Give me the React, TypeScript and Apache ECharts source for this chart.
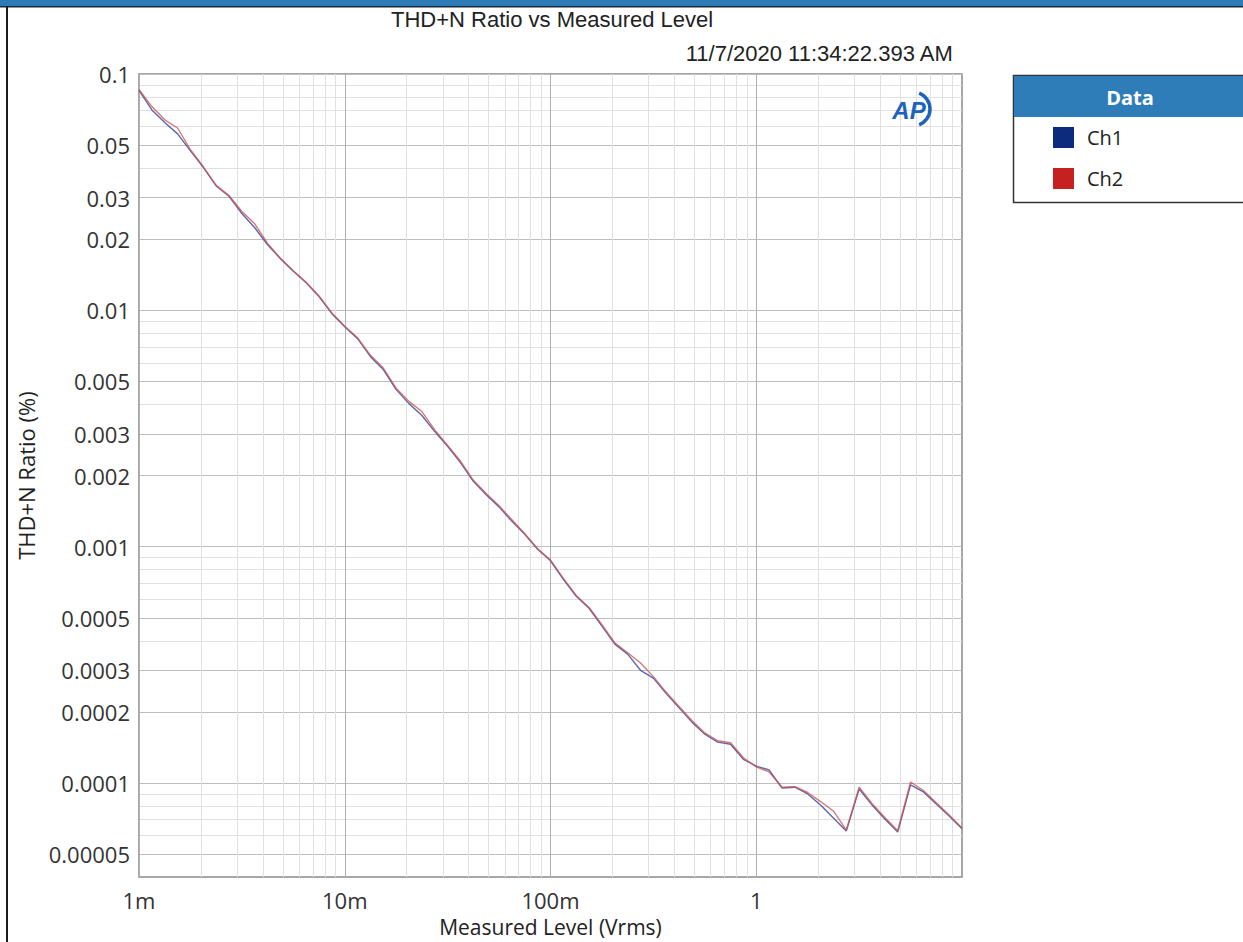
import React, { useEffect, useRef } from 'react';
import * as echarts from 'echarts';

// Measured level (Vrms) of each sweep step
const LEVELS = [
  0.001, 0.0011548, 0.0013335, 0.0015399, 0.0017783, 0.0020535, 0.0023714, 0.0027384, 0.0031623, 0.0036517,
  0.004217, 0.0048697, 0.0056234, 0.0064938, 0.0074989, 0.0086596,
  0.01, 0.011548, 0.013335, 0.015399, 0.017783, 0.020535, 0.023714, 0.027384, 0.031623, 0.036517,
  0.04217, 0.048697, 0.056234, 0.064938, 0.074989, 0.086596,
  0.1, 0.11548, 0.13335, 0.15399, 0.17783, 0.20535, 0.23714, 0.27384, 0.31623, 0.36517,
  0.4217, 0.48697, 0.56234, 0.64938, 0.74989, 0.86596,
  1, 1.1548, 1.3335, 1.5399, 1.7783, 2.0535, 2.3714, 2.7384, 3.1623, 3.6517,
  4.217, 4.8697, 5.6234, 6.4938, 7.4989, 8.6596, 10,
];

// THD+N ratio (%)
const CH1 = [
  0.0852, 0.0705, 0.0624, 0.0558, 0.0473, 0.0403, 0.0336, 0.0304, 0.0257, 0.02236,
  0.01895, 0.01654, 0.01464, 0.01309, 0.01143, 0.00968, 0.00853, 0.00759, 0.00637, 0.00562,
  0.00462, 0.00403, 0.00359, 0.00307, 0.00266, 0.00227, 0.00189, 0.00166, 0.001474, 0.00128,
  0.001128, 0.000975, 0.000872, 0.000728, 0.000617, 0.000549, 0.000461, 0.000387, 0.000351, 0.0003,
  0.000278, 0.000239, 0.000208, 0.000181, 0.000161, 0.000149, 0.000146, 0.000126, 0.000118, 0.0001136,
  0.0000953, 0.000096, 0.0000899, 0.0000808, 0.0000712, 0.0000627, 0.0000944, 0.0000808, 0.0000705, 0.0000621,
  0.0000982, 0.0000917, 0.0000816, 0.0000726, 0.000064,
];

const CH2 = [
  0.086, 0.0728, 0.064, 0.0591, 0.0478, 0.0405, 0.0338, 0.0306, 0.0262, 0.02324,
  0.0192, 0.0166, 0.0147, 0.01315, 0.0115, 0.00975, 0.00856, 0.00765, 0.00645, 0.0057,
  0.00468, 0.00412, 0.00373, 0.00312, 0.00268, 0.0023, 0.00191, 0.00168, 0.00149, 0.0013,
  0.001135, 0.00098, 0.000878, 0.000735, 0.000622, 0.000553, 0.000468, 0.000392, 0.000356, 0.000322,
  0.000282, 0.000242, 0.000211, 0.000184, 0.000163, 0.000151, 0.000148, 0.000128, 0.000117, 0.0001114,
  0.000096, 0.0000965, 0.0000912, 0.0000835, 0.0000762, 0.0000632, 0.000096, 0.000082, 0.0000715, 0.0000628,
  0.000101, 0.000093, 0.0000825, 0.0000732, 0.0000645,
];

const X_TICKS = [0.001, 0.01, 0.1, 1];
const X_TICK_LABELS = ['1m', '10m', '100m', '1'];
const Y_TICKS = [0.1, 0.05, 0.03, 0.02, 0.01, 0.005, 0.003, 0.002, 0.001, 0.0005, 0.0003, 0.0002, 0.0001, 0.00005];
const Y_TICK_LABELS = ['0.1', '0.05', '0.03', '0.02', '0.01', '0.005', '0.003', '0.002', '0.001', '0.0005', '0.0003', '0.0002', '0.0001', '0.00005'];
const X_MIN = 0.001;
const X_MAX = 10;
const Y_MIN = 0.00004;
const Y_MAX = 0.1;

const lg = (v: number) => Math.round(Math.log10(v) * 1e9) / 1e9;

function minorGrid(lo: number, hi: number, skip: number[]) {
  const out: number[] = [];
  for (let e = -6; e <= 2; e++) {
    for (let m = 1; m <= 9; m++) {
      const v = m * Math.pow(10, e);
      const l = lg(v);
      if (l > lg(lo) && l < lg(hi) && !skip.some((s) => Math.abs(lg(s) - l) < 1e-6)) out.push(l);
    }
  }
  return out;
}

function nearestLabel(val: number, ticks: number[], labels: string[]) {
  let best = 0;
  let bd = Infinity;
  ticks.forEach((t, i) => {
    const d = Math.abs(lg(t) - val);
    if (d < bd) { bd = d; best = i; }
  });
  return labels[best];
}

const TICK_FONT = '"Open Sans", "Noto Sans", sans-serif';
const TITLE_FONT = '"Liberation Sans", Arial, sans-serif';

export default function App() {
  const ref = useRef<HTMLDivElement>(null);
  useEffect(() => {
    if (!ref.current) return;
    const chart = echarts.init(ref.current, null, { renderer: 'svg' });
    const xMinor = minorGrid(X_MIN, X_MAX, X_TICKS);
    const yMinor = minorGrid(Y_MIN, Y_MAX, Y_TICKS);
    const ch1 = LEVELS.map((x, i) => [lg(x), lg(CH1[i])]);
    const ch2 = LEVELS.map((x, i) => [lg(x), lg(CH2[i])]);

    chart.setOption({
      animation: false,
      backgroundColor: '#ffffff',
      title: [
        {
          text: 'THD+N Ratio vs Measured Level',
          left: 386,
          top: 3,
          textStyle: { fontFamily: TITLE_FONT, fontSize: 22, fontWeight: 'normal', color: '#222' },
        },
        {
          text: '11/7/2020 11:34:22.393 AM',
          right: 284,
          top: 37,
          textStyle: { fontFamily: TITLE_FONT, fontSize: 22, fontWeight: 'normal', color: '#222' },
        },
      ],
      grid: {
        left: 139,
        top: 74,
        width: 823,
        height: 804,
        show: true,
        borderColor: '#8a8a8a',
        borderWidth: 1.5,
        backgroundColor: 'transparent',
      },
      legend: {
        orient: 'vertical',
        left: 1053,
        top: 127,
        padding: 0,
        itemWidth: 21,
        itemHeight: 21,
        itemGap: 20,
        icon: 'rect',
        textStyle: { fontFamily: TICK_FONT, fontSize: 20, color: '#222', padding: [0, 0, 0, 8] },
        data: [
          { name: 'Ch1', icon: 'rect', itemStyle: { color: '#0d2b7c', borderWidth: 0 } },
          { name: 'Ch2', icon: 'rect', itemStyle: { color: '#c62020', borderWidth: 0 } },
        ],
      },
      xAxis: [
        {
          type: 'value',
          min: lg(X_MIN),
          max: lg(X_MAX),
          position: 'bottom',
          axisLine: { show: false },
          axisTick: { show: false, customValues: X_TICKS.map(lg) },
          axisLabel: {
            customValues: X_TICKS.map(lg),
            formatter: (v: number) => nearestLabel(v, X_TICKS, X_TICK_LABELS),
            fontFamily: TICK_FONT,
            fontSize: 22,
            color: '#333',
            margin: 12,
          },
          splitLine: { show: true, lineStyle: { color: '#b0b0b0', width: 1 } },
          name: 'Measured Level (Vrms)',
          nameLocation: 'middle',
          nameGap: 34,
          nameTextStyle: { fontFamily: TICK_FONT, fontSize: 21, color: '#222' },
        },
        {
          type: 'value',
          min: lg(X_MIN),
          max: lg(X_MAX),
          position: 'top',
          axisLine: { show: false },
          axisTick: { show: false, customValues: xMinor },
          axisLabel: { show: false },
          splitLine: { show: true, lineStyle: { color: '#e0e0e0', width: 1 } },
        },
      ],
      yAxis: [
        {
          type: 'value',
          min: lg(Y_MIN),
          max: lg(Y_MAX),
          position: 'left',
          axisLine: { show: false },
          axisTick: { show: false, customValues: Y_TICKS.map(lg) },
          axisLabel: {
            customValues: Y_TICKS.map(lg),
            formatter: (v: number) => nearestLabel(v, Y_TICKS, Y_TICK_LABELS),
            fontFamily: TICK_FONT,
            fontSize: 22,
            color: '#333',
            margin: 9,
          },
          splitLine: { show: true, lineStyle: { color: '#bdbdbd', width: 1 } },
          name: 'THD+N Ratio (%)',
          nameLocation: 'middle',
          nameRotate: 90,
          nameGap: 102,
          nameTextStyle: { fontFamily: TICK_FONT, fontSize: 22, color: '#222' },
        },
        {
          type: 'value',
          min: lg(Y_MIN),
          max: lg(Y_MAX),
          position: 'right',
          axisLine: { show: false },
          axisTick: { show: false, customValues: yMinor },
          axisLabel: { show: false },
          splitLine: { show: true, lineStyle: { color: '#e0e0e0', width: 1 } },
        },
      ],
      series: [
        {
          name: 'Ch1',
          type: 'line',
          xAxisIndex: 0,
          yAxisIndex: 0,
          data: ch1,
          showSymbol: false,
          symbol: 'none',
          itemStyle: { color: '#0d2b7c' },
          lineStyle: { color: '#3d4f9e', width: 1.4, opacity: 0.85 },
          z: 3,
        },
        {
          name: 'Ch2',
          type: 'line',
          xAxisIndex: 0,
          yAxisIndex: 0,
          data: ch2,
          showSymbol: false,
          symbol: 'none',
          itemStyle: { color: '#c62020' },
          lineStyle: { color: '#d05555', width: 1.4, opacity: 0.8 },
          z: 4,
        },
      ],
      graphic: [
        { type: 'rect', shape: { x: 0, y: 0, width: 1243, height: 6 }, style: { fill: '#2c7bb6' }, z: 10 },
        { type: 'rect', shape: { x: 0, y: 6, width: 1243, height: 1.5 }, style: { fill: '#1b2a3a' }, z: 10 },
        { type: 'rect', shape: { x: 6, y: 6, width: 2, height: 936 }, style: { fill: '#1a1a1a' }, z: 10 },
        {
          type: 'rect',
          shape: { x: 1013.5, y: 75.5, width: 260, height: 127 },
          style: { fill: 'transparent', stroke: '#333', lineWidth: 1.5 },
          z: 5,
        },
        { type: 'rect', shape: { x: 1014, y: 76, width: 259, height: 41 }, style: { fill: '#2e7db9' }, z: 6 },
        {
          type: 'text',
          x: 1130,
          y: 97,
          style: {
            text: 'Data',
            fill: '#ffffff',
            font: 'bold 20px "Open Sans", "Noto Sans", sans-serif',
            align: 'center',
            verticalAlign: 'middle',
          },
          z: 7,
        },
        {
          type: 'text',
          x: 909,
          y: 110,
          style: {
            text: 'AP',
            fill: '#1e63bb',
            font: 'italic bold 24px "Liberation Sans", Arial, sans-serif',
            align: 'center',
            verticalAlign: 'middle',
          },
          z: 7,
        },
        {
          type: 'arc',
          shape: { cx: 913, cy: 109, r: 17, startAngle: -1.2, endAngle: 1.2 },
          style: { stroke: '#1e63bb', lineWidth: 3.5, fill: 'none' },
          z: 7,
        },
      ],
    });
    return () => chart.dispose();
  }, []);

  return (
    <div
      ref={ref}
      style={{ position: 'fixed', left: 0, top: 0, width: 1243, height: 942, background: '#fff' }}
    />
  );
}
